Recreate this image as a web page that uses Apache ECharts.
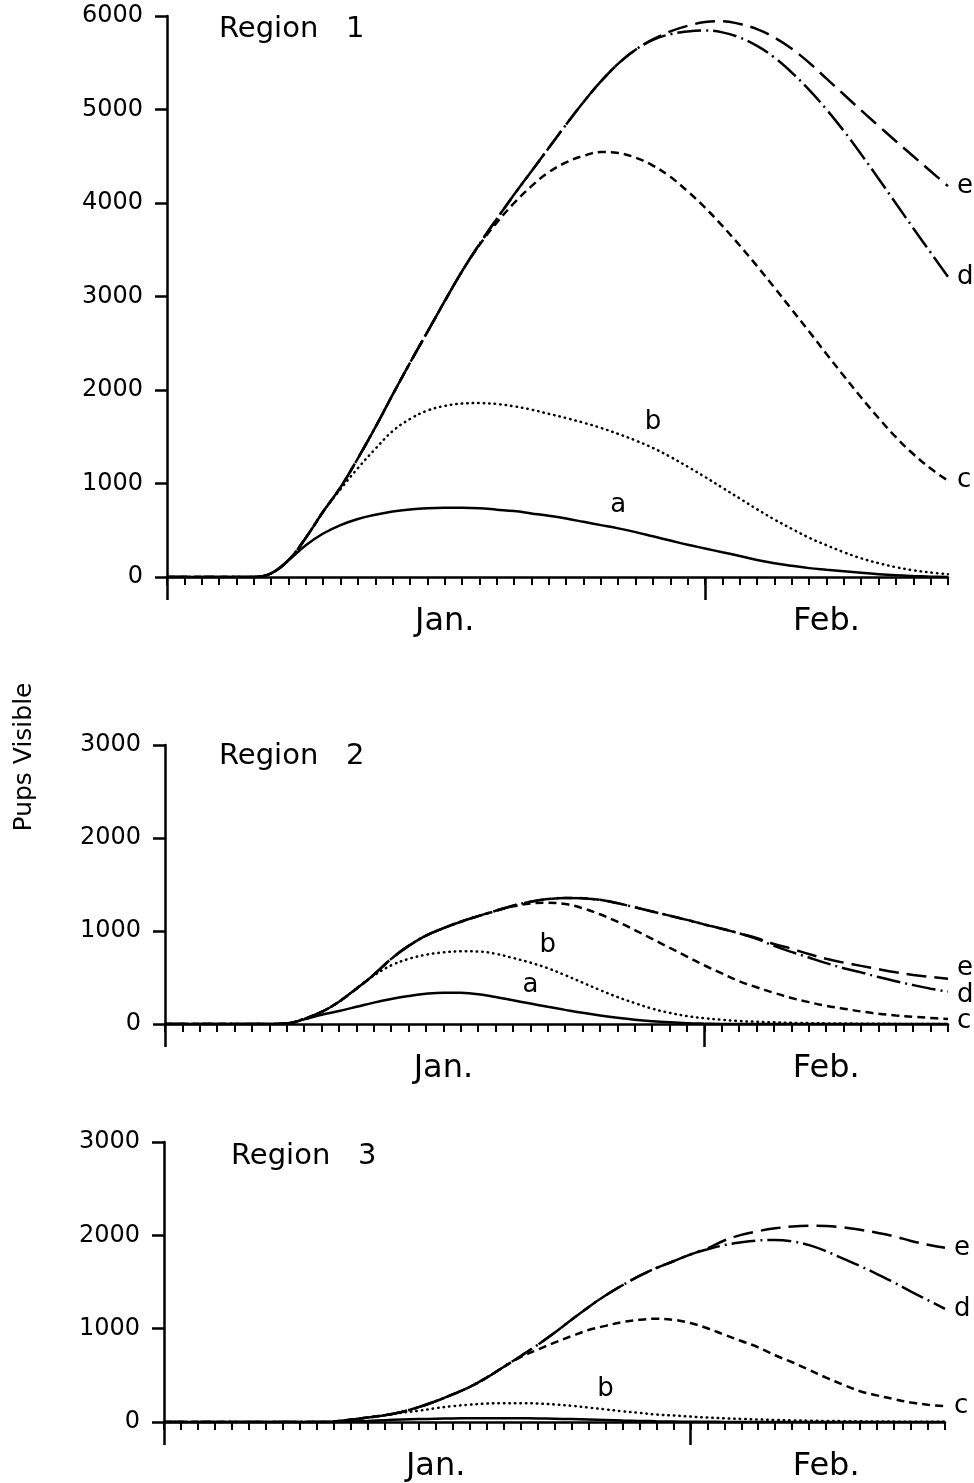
<!DOCTYPE html>
<html><head><meta charset="utf-8">
<script src="https://cdn.jsdelivr.net/npm/echarts@6/dist/echarts.min.js"></script>
<style>html,body{margin:0;padding:0;background:#fff}#c{width:974px;height:1483px}</style>
</head><body><div id="c"></div><script>
// ---- categories (day index from Jan 1) ----
const days45 = ['0','1','2','3','4','5','6','7','8','9','10','11','12','13','14','15','16','17','18','19','20','21','22','23','24','25','26','27','28','29','30','31','32','33','34','35','36','37','38','39','40','41','42','43','44','45'];
const days46 = ['0','1','2','3','4','5','6','7','8','9','10','11','12','13','14','15','16','17','18','19','20','21','22','23','24','25','26','27','28','29','30','31','32','33','34','35','36','37','38','39','40','41','42','43','44','45','46'];
const monthLabels = ['Jan.', 'Feb.'];
const monthLabelDays12 = [16, 38];
const monthLabelDays3 = [16, 39];
const monthStartDays = [0, 31];
const regionTitles = ['Region   1', 'Region   2', 'Region   3'];
const yAxisTitle = 'Pups Visible';

// ---- Region 1 ----
const r1_a = [0,0,0,0,0,0,40,180,340,465,555,620,665,700,722,735,740,740,735,720,705,680,655,625,590,555,520,480,435,390,345,305,265,225,182,148,120,95,78,62,46,30,18,10,4,0];
const r1_b = [0,0,0,0,0,0,40,180,420,700,940,1165,1370,1560,1690,1780,1830,1855,1860,1850,1825,1790,1745,1700,1650,1595,1530,1460,1380,1285,1180,1070,955,840,725,615,515,420,340,265,200,148,105,72,48,30];
const r1_c = [0,0,0,0,0,0,40,180,420,700,960,1270,1600,1950,2290,2620,2950,3270,3550,3790,4000,4180,4330,4435,4505,4545,4535,4485,4400,4280,4125,3950,3755,3545,3325,3095,2860,2625,2385,2150,1920,1700,1495,1315,1160,1030];
const r1_d = [0,0,0,0,0,0,40,180,420,700,960,1270,1600,1950,2290,2620,2950,3270,3560,3830,4090,4340,4590,4840,5080,5300,5490,5640,5745,5805,5835,5845,5825,5770,5680,5555,5395,5210,5000,4770,4520,4260,3995,3730,3470,3210];
const r1_e = [0,0,0,0,0,0,40,180,420,700,960,1270,1600,1950,2290,2620,2950,3270,3560,3830,4090,4340,4590,4840,5080,5300,5490,5640,5750,5835,5895,5935,5945,5915,5860,5770,5650,5500,5330,5160,4990,4825,4660,4500,4340,4180];

// ---- Region 2 ----
const r2_a = [0,0,0,0,0,0,0,5,50,100,140,185,230,268,300,325,337,335,320,290,255,220,185,152,120,92,67,46,30,18,9,4,1,0,0,0,0,0,0,0,0,0,0,0,0,0];
const r2_b = [0,0,0,0,0,0,0,5,55,130,240,380,520,630,700,745,770,782,780,755,710,660,600,525,445,365,290,225,165,120,85,62,45,32,24,18,13,10,7,5,3,2,1,0,0,0];
const r2_c = [0,0,0,0,0,0,0,5,55,130,240,380,530,700,840,950,1030,1100,1160,1215,1265,1295,1303,1290,1245,1180,1100,1010,915,820,725,630,545,460,395,335,280,235,195,165,135,110,92,78,65,53];
const r2_d = [0,0,0,0,0,0,0,5,55,130,240,380,530,700,840,950,1030,1100,1160,1218,1272,1315,1343,1356,1352,1335,1300,1255,1210,1165,1120,1070,1025,975,915,840,775,715,655,600,555,505,460,418,380,348];
const r2_e = [0,0,0,0,0,0,0,5,55,130,240,380,530,700,840,950,1030,1100,1160,1218,1272,1315,1343,1356,1352,1335,1300,1255,1210,1165,1120,1070,1025,975,925,860,810,752,702,660,625,590,556,528,506,487];

// ---- Region 3 ----
const r3_a = [0,0,0,0,0,0,0,0,0,0,0,5,12,20,26,31,35,38,40,41,41,40,38,35,31,26,21,16,12,8,5,3,2,1,0,0,0,0,0,0,0,0,0,0,0,0,0];
const r3_b = [0,0,0,0,0,0,0,0,0,0,5,25,48,72,100,120,148,170,186,197,202,202,198,188,174,155,135,115,98,80,70,58,48,40,33,27,22,18,14,11,9,7,5,4,3,2,2];
const r3_c = [0,0,0,0,0,0,0,0,0,0,5,25,48,72,108,159,222,295,375,475,590,695,775,850,920,985,1030,1070,1095,1106,1095,1060,1005,935,868,800,715,640,558,475,400,330,285,245,208,185,170];
const r3_d = [0,0,0,0,0,0,0,0,0,0,5,25,48,72,108,159,222,295,375,475,590,705,825,955,1095,1230,1355,1465,1565,1650,1722,1795,1850,1895,1925,1945,1950,1935,1895,1830,1750,1671,1585,1495,1398,1305,1212];
const r3_e = [0,0,0,0,0,0,0,0,0,0,5,25,48,72,108,159,222,295,375,475,590,705,825,955,1095,1230,1355,1465,1565,1650,1722,1795,1860,1945,2005,2045,2075,2095,2102,2100,2085,2060,2028,1990,1940,1900,1866];

const FONT = 'DejaVu Sans';
const INK = '#000';
const styles = {
  a: 'solid',
  b: [0.5, 5],
  c: [8, 5],
  d: [24, 5, 2, 5],
  e: [20, 8]
};

const panels = [
  {grid:{left:167, top:16, width:781, height:561}, cats:days45, ymax:6000, monthDays:monthLabelDays12,
   data:{a:r1_a,b:r1_b,c:r1_c,d:r1_d,e:r1_e}, endOffsets:{c:[0,0],d:[0,0],e:[0,0]},
   inner:{a:[26,770], b:[28,1650]}, title:{left:219, top:15}},
  {grid:{left:165, top:745, width:783, height:279}, cats:days45, ymax:3000, monthDays:monthLabelDays12,
   data:{a:r2_a,b:r2_b,c:r2_c,d:r2_d,e:r2_e}, endOffsets:{c:[0,2],d:[0,4],e:[0,-10]},
   inner:{a:[21,420], b:[22,850]}, title:{left:219, top:742}},
  {grid:{left:164, top:1142, width:781, height:281}, cats:days46, ymax:3000, monthDays:monthLabelDays3,
   data:{a:r3_a,b:r3_b,c:r3_c,d:r3_d,e:r3_e}, endOffsets:{c:[0,0],d:[0,0],e:[0,0]},
   inner:{b:[26,352]}, title:{left:231, top:1142}}
];

const option = {animation:false, backgroundColor:'#fff', grid:[], xAxis:[], yAxis:[], series:[], title:[], graphic:[]};

panels.forEach((p, g) => {
  option.grid.push(p.grid);
  option.xAxis.push({
    type:'category', gridIndex:g, data:p.cats, boundaryGap:false, position:'bottom',
    axisLine:{show:true, lineStyle:{color:INK, width:2.5}},
    axisTick:{show:true, interval:0, length:8, lineStyle:{color:INK, width:2}},
    axisLabel:{show:false}, splitLine:{show:false}
  });
  option.xAxis.push({
    type:'category', gridIndex:g, data:p.cats, boundaryGap:false, position:'bottom',
    axisLine:{show:false},
    axisTick:{show:true, interval:(idx) => monthStartDays.includes(idx), length:23, lineStyle:{color:INK, width:2.5}},
    axisLabel:{show:true, interval:(idx) => p.monthDays.includes(idx),
      formatter:(v, idx) => monthLabels[p.monthDays.indexOf(idx)] || '',
      margin:29, fontSize:32, fontFamily:FONT, color:INK},
    splitLine:{show:false}
  });
  option.yAxis.push({
    type:'value', gridIndex:g, min:0, max:p.ymax, interval:1000,
    axisLine:{show:true, lineStyle:{color:INK, width:2.5}},
    axisTick:{show:true, length:12, lineStyle:{color:INK, width:2.5}},
    axisLabel:{margin:24, fontSize:24, fontFamily:FONT, color:INK, formatter:(v) => String(v)},
    splitLine:{show:false}
  });
  option.title.push({text:regionTitles[g], left:p.title.left, top:p.title.top, padding:0,
    textStyle:{fontSize:29, fontWeight:'normal', fontFamily:FONT, color:INK}});
  ['e','d','c','b','a'].forEach(name => {
    const s = {
      type:'line', name:name + g, xAxisIndex:2*g, yAxisIndex:g, data:p.data[name],
      symbol:'none', smooth:0.4, z: 3,
      lineStyle:{color:INK, width:2.5, type:styles[name], cap: name === 'b' ? 'round' : 'butt'}
    };
    if (p.endOffsets[name]) {
      s.endLabel = {show:true, formatter:name, distance:9, offset:p.endOffsets[name],
        fontSize:26, fontFamily:FONT, color:INK};
    }
    if (p.inner[name]) {
      s.markPoint = {symbol:'circle', symbolSize:1, itemStyle:{color:'rgba(0,0,0,0)'},
        data:[{coord:p.inner[name]}],
        label:{show:true, position:'inside', formatter:name, fontSize:26, fontFamily:FONT, color:INK}};
    }
    option.series.push(s);
  });
});

option.graphic.push({type:'text', x:24, y:757, rotation:Math.PI/2,
  style:{text:yAxisTitle, fontSize:25, fontFamily:FONT, fill:INK, align:'center', verticalAlign:'middle'}});

const chart = echarts.init(document.getElementById('c'), null, {renderer:'canvas', width:974, height:1483});
chart.setOption(option);
</script></body></html>
